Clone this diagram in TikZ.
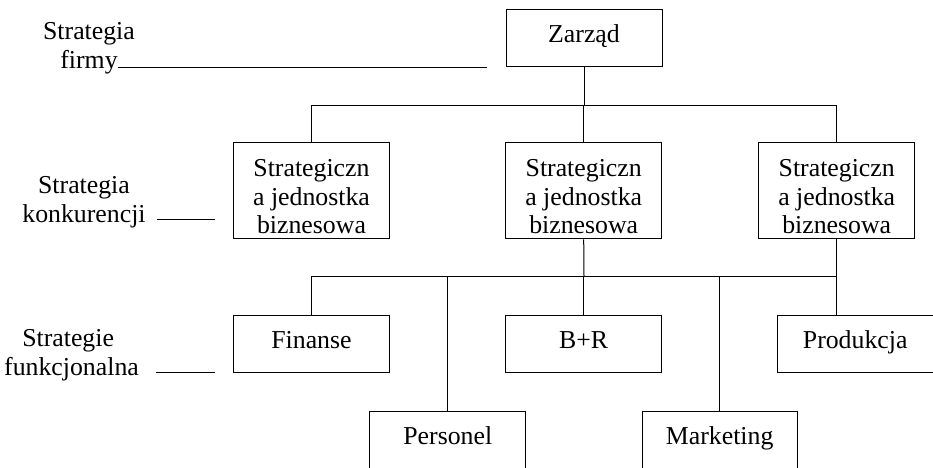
\documentclass[tikz,border=0pt]{standalone}
\usepackage{fontspec}
\setmainfont{Liberation Serif}
\newcommand{\topstrut}{\rule{0pt}{29pt}}
\begin{document}
\begin{tikzpicture}[x=1pt,y=-1pt,line width=1pt,
  every node/.style={font=\fontsize{25.8}{28.3}\selectfont},
  unit/.style={draw,inner sep=0pt,minimum width=156pt,minimum height=57.7pt,
    text height=18pt,text depth=9.6pt},
  sbu/.style={draw,inner sep=0pt,minimum width=156pt,minimum height=96.3pt,align=center},
  level/.style={align=center,inner sep=0pt,anchor=base},
  wire/.style={line width=1pt}]
\useasboundingbox (0,0) rectangle (933,467);
\clip (0,0) rectangle (933,467);

% top management
\node[unit] (zarzad) at (584,38) {Zarząd};

% strategic business units
\node[sbu] (sbu1) at (311.5,190.8) {\topstrut Strategiczn\\a jednostka\\biznesowa};
\node[sbu] (sbu2) at (583.7,190.8) {\topstrut Strategiczn\\a jednostka\\biznesowa};
\node[sbu] (sbu3) at (836.7,190.8) {\topstrut Strategiczn\\a jednostka\\biznesowa};

% functional departments
\node[unit] (fin)  at (311.5,343.9) {Finanse};
\node[unit] (br)   at (583.7,343.9) {B+R};
\node[unit] (prod) at (855.2,343.9) {Produkcja};
\node[unit,minimum width=155.7pt] (pers) at (447.8,439.9) {Personel};
\node[unit,minimum width=155.3pt] (mark) at (719.7,439.9) {Marketing};

% bus levels
\coordinate (bustop) at (584,105);
\coordinate (busbot) at (584,276.7);

% management to business units
\draw[wire] (zarzad.south) -- (bustop);
\draw[wire] (sbu1.north) -- (sbu1.north |- bustop) -- (sbu3.north |- bustop) -- (sbu3.north);
\draw[wire] (sbu2.north) -- (sbu2.north |- bustop);

% business units to functional departments
\draw[wire] (sbu2.south) -- (busbot);
\draw[wire] (fin.north) -- (fin.north |- busbot) -- (sbu3.south |- busbot);
\draw[wire] (sbu3.south) -- (sbu3.south |- prod.north);
\draw[wire] (pers.north) -- (pers.north |- busbot);
\draw[wire] (br.north) -- (br.north |- busbot);
\draw[wire] (mark.north) -- (mark.north |- busbot);

% strategy level labels (anchored on the baseline of the last line)
\node[level] (lfirm) at (89,68) {Strategia\\firmy};
\node[level] (lkonk) at (84,222) {Strategia\\konkurencji};
\node[level] (lfunk) at (71.5,375) {Strategie\hspace*{6.7pt}\\funkcjonalna};

\coordinate (f1) at (118,67.3);
\coordinate (f2) at (487,67.3);
\coordinate (k1) at (156.7,219);
\coordinate (k2) at (215,219);
\coordinate (u1) at (155.7,372.7);
\coordinate (u2) at (215,372.7);
\draw[wire] (f1) -- (f2);
\draw[wire] (k1) -- (k2);
\draw[wire] (u1) -- (u2);
\end{tikzpicture}
\end{document}
